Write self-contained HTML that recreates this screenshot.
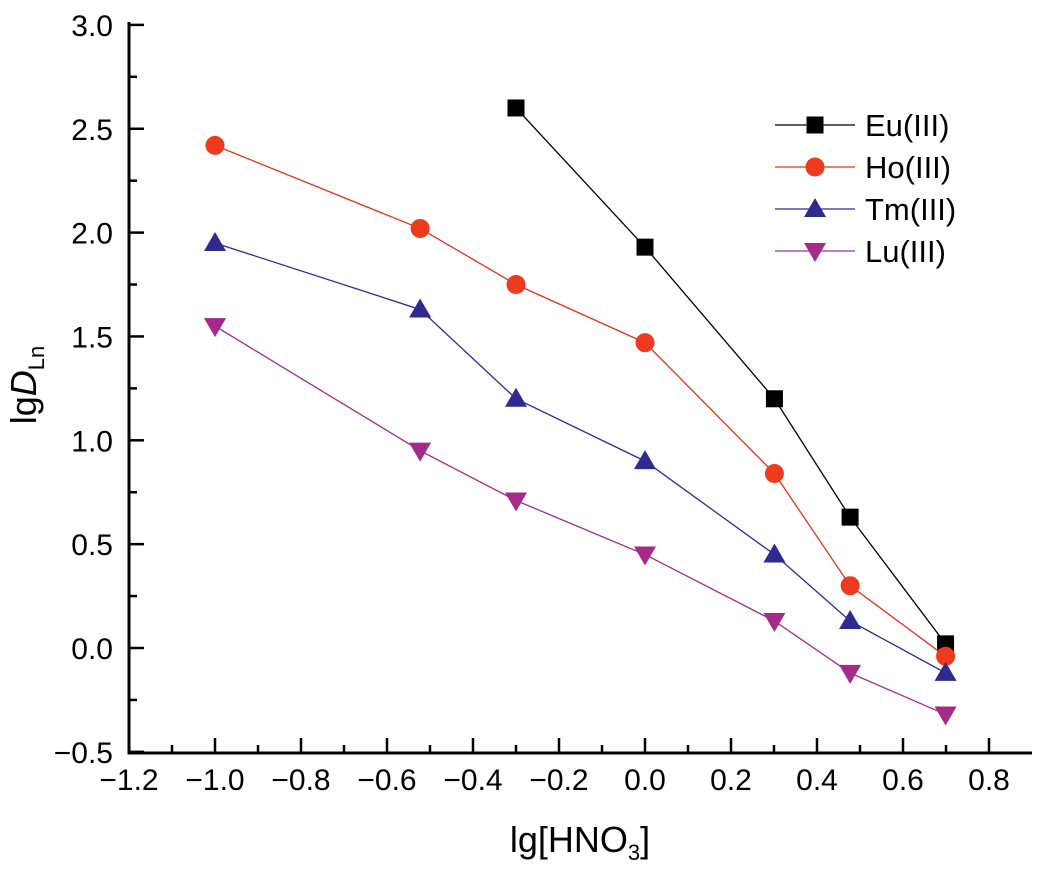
<!DOCTYPE html>
<html><head><meta charset="utf-8"><style>
body{margin:0;background:#fff}
text{font-family:"Liberation Sans",Arial,sans-serif}
</style></head><body>
<svg id="c" width="1039" height="874" xmlns="http://www.w3.org/2000/svg"></svg>
<script>
const xVals=[-1.0,-0.523,-0.3,0.0,0.301,0.477,0.699];
const euX=[-0.3,0.0,0.301,0.477,0.699];
const euY=[2.60,1.93,1.20,0.63,0.02];
const hoY=[2.42,2.02,1.75,1.47,0.84,0.30,-0.04];
const tmY=[1.95,1.63,1.20,0.90,0.45,0.13,-0.12];
const luY=[1.55,0.95,0.71,0.45,0.13,-0.12,-0.32];
const xTicks=["-1.2","-1.0","-0.8","-0.6","-0.4","-0.2","0.0","0.2","0.4","0.6","0.8"];
const yTicks=["-0.5","0.0","0.5","1.0","1.5","2.0","2.5","3.0"];
const legendLabels=["Eu(III)","Ho(III)","Tm(III)","Lu(III)"];

const NS="http://www.w3.org/2000/svg";
const svg=document.getElementById('c');
const X=v=>129+(v+1.2)*430;
const Y=v=>648-v*207.7;
function el(t,a,p){const e=document.createElementNS(NS,t);for(const k in a)e.setAttribute(k,a[k]);(p||svg).appendChild(e);return e;}

let ax=el('line',{x1:129,y1:753,x2:1032,y2:753,stroke:'#000','stroke-width':3});


ax=el('line',{x1:129,y1:22,x2:129,y2:754.5,stroke:'#000','stroke-width':3});



xTicks.forEach((t,i)=>{
  const v=parseFloat(t),x=X(v);
  el('line',{x1:x,y1:753,x2:x,y2:738,stroke:'#000','stroke-width':2.5});
  const m=X(v+0.1);if(m<1030)el('line',{x1:m,y1:753,x2:m,y2:745,stroke:'#000','stroke-width':2.5});
  const tx=el('text',{x:x,y:790,'font-size':30,'text-anchor':'middle'});
  tx.textContent=t.replace('-','\u2212');
  
  
});
yTicks.forEach((t,i)=>{
  const v=parseFloat(t),y=Y(v);
  el('line',{x1:129,y1:y,x2:144,y2:y,stroke:'#000','stroke-width':2.5});
  if(i<yTicks.length-1){const m=Y(v+0.25);el('line',{x1:129,y1:m,x2:137,y2:m,stroke:'#000','stroke-width':2.5});}
  const tx=el('text',{x:113,y:y+11,'font-size':30,'text-anchor':'end'});
  tx.textContent=t.replace('-','\u2212');
  
  
});

let t=el('text',{x:580,y:852,'font-size':36,'text-anchor':'middle'});
t.innerHTML='lg[HNO<tspan font-size="22" dy="8">3</tspan><tspan dy="-8">]</tspan>';


t=el('text',{x:0,y:0,'font-size':36,'text-anchor':'middle',transform:'translate(36,385) rotate(-90)'});
t.innerHTML='lg<tspan font-style="italic">D</tspan><tspan font-size="22" dy="8">Ln</tspan>';



function marker(kind,x,y,col,g){
  if(kind==='sq')return el('rect',{x:x-8.5,y:y-8.5,width:17,height:17,fill:col},g);
  if(kind==='ci')return el('circle',{cx:x,cy:y,r:9.5,fill:col},g);
  if(kind==='up')return el('polygon',{points:`${x},${y-11} ${x-11},${y+8} ${x+11},${y+8}`,fill:col},g);
  return el('polygon',{points:`${x},${y+11} ${x-11},${y-8} ${x+11},${y-8}`,fill:col},g);
}
const series=[
 {name:'eu',xs:euX,ys:euY,col:'#000000',line:'#000000',k:'sq'},
 {name:'ho',xs:xVals,ys:hoY,col:'#ee3b1f',line:'#e8321e',k:'ci'},
 {name:'tm',xs:xVals,ys:tmY,col:'#2e2a8f',line:'#2e2a8f',k:'up'},
 {name:'lu',xs:xVals,ys:luY,col:'#a52a8a',line:'#a52a8a',k:'dn'}];
series.forEach((s,si)=>{
  const g=el('g',{});
  
  
  el('polyline',{points:s.xs.map((x,i)=>X(x)+','+Y(s.ys[i])).join(' '),fill:'none',stroke:s.line,'stroke-width':1.3},g);
  s.xs.forEach((x,i)=>{const m=marker(s.k,X(x),Y(s.ys[i]),s.col,g);
    
    });
  const ly=125+si*42;
  const lg=el('g',{});
  
  
  el('line',{x1:775,y1:ly,x2:855,y2:ly,stroke:s.line,'stroke-width':1.3},lg);
  marker(s.k,815,ly,s.col,lg);
  const tt=el('text',{x:865,y:ly+11,'font-size':31},lg);tt.textContent=legendLabels[si];
});
</script>
</body></html>
